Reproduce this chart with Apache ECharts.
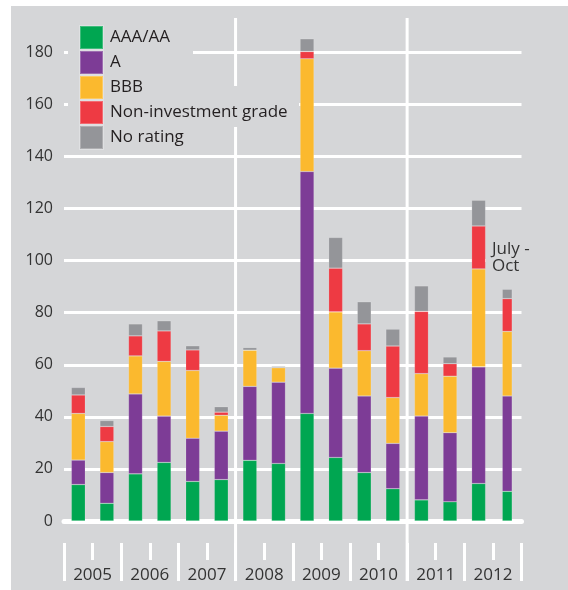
<!DOCTYPE html>
<html>
<head>
<meta charset="utf-8">
<script src="https://cdn.jsdelivr.net/npm/echarts@6/dist/echarts.min.js"></script>
<style>
  html, body { margin: 0; padding: 0; background: #ffffff; }
  #main { position: absolute; left: 11px; top: 6px; width: 557px; height: 584px; background: #d5d6d8; }
</style>
</head>
<body>
<div id="main"></div>
<script>
// two bars per year, the last one is July - Oct 2012
var years = ["2005", "2006", "2007", "2008", "2009", "2010", "2011", "2012"];
var periods = ["2005-1", "2005-2", "2006-1", "2006-2", "2007-1", "2007-2", "2008-1", "2008-2",
  "2009-1", "2009-2", "2010-1", "2010-2", "2011-1", "2011-2", "2012-1", "2012-2"];

var aaaAA = [14, 6.8, 18.1, 22.5, 15.2, 15.9, 23.3, 22.1, 41.3, 24.4, 18.6, 12.4, 8.1, 7.4, 14.4, 11.4];
var ratingA = [9.4, 11.8, 30.7, 17.8, 16.6, 18.6, 28.4, 31.2, 92.9, 34.3, 29.4, 17.4, 32.2, 26.5, 44.8, 36.6];
var bbb = [17.9, 11.9, 14.6, 21.0, 26.0, 6.1, 13.9, 5.6, 43.3, 21.6, 17.4, 17.6, 16.3, 21.7, 37.6, 24.8];
var nonInvestment = [7.1, 5.8, 7.7, 11.7, 7.9, 1.2, 0, 0, 2.8, 16.8, 10.3, 19.8, 23.9, 4.8, 16.5, 12.6];
var noRating = [2.9, 2.3, 4.6, 3.9, 1.6, 2.1, 1.0, 0.5, 4.9, 11.8, 8.5, 6.5, 9.8, 2.6, 9.9, 3.6];

var yTicks = { min: 0, max: 180, interval: 20 };

var groups = [
  { name: "AAA/AA", data: aaaAA, color: "#00a651" },
  { name: "A", data: ratingA, color: "#7d3c96" },
  { name: "BBB", data: bbb, color: "#fbb92e" },
  { name: "Non-investment grade", data: nonInvestment, color: "#ee3a43" },
  { name: "No rating", data: noRating, color: "#949599" },
];

var last = periods.length - 1;
var series = [];
groups.forEach(function (g) {
  // full-year bars
  series.push({
    name: g.name,
    type: "bar",
    stack: "main",
    xAxisIndex: 0,
    barWidth: 14,
    clip: false,
    itemStyle: { color: g.color, borderColor: "rgba(255,255,255,0.25)", borderWidth: 0.6 },
    data: g.data.map(function (v, i) { return i === last ? "-" : v; }),
  });
  // narrower July - Oct bar
  series.push({
    name: g.name,
    type: "bar",
    stack: "part",
    xAxisIndex: 1,
    barWidth: 10,
    clip: false,
    itemStyle: { color: g.color, borderColor: "rgba(255,255,255,0.25)", borderWidth: 0.6 },
    data: g.data.map(function (v, i) { return i === last ? v : "-"; }),
  });
});

var main = echarts.init(document.getElementById("main"));

var option = {
  animation: false,
  textStyle: { fontFamily: "Open Sans" },
  grid: { left: 53, right: 46.5, top: 46.3, bottom: 69 },
  legend: {
    data: groups.map(function (g) { return g.name; }),
    orient: "vertical",
    left: 68,
    top: 19,
    padding: 0,
    itemGap: 0,
    itemWidth: 23,
    itemHeight: 23,
    icon: "rect",
    textStyle: { fontSize: 17, color: "#231f20", padding: [0, 0, 0, 2] },
  },
  xAxis: [
    {
      type: "category",
      data: periods,
      axisLine: { show: true, lineStyle: { color: "#ffffff", width: 5 } },
      axisTick: { show: false },
      axisLabel: { show: false },
    },
    {
      type: "category",
      data: periods,
      show: false,
    },
    {
      type: "category",
      data: years,
      position: "bottom",
      offset: 22,
      axisLine: { show: false },
      axisTick: { show: true, length: 38, lineStyle: { color: "#ffffff", width: 3 } },
      axisLabel: { fontSize: 17, color: "#333333", margin: 24 },
    },
    {
      type: "category",
      data: years,
      position: "bottom",
      offset: 22,
      axisLine: { show: false },
      axisTick: { show: true, alignWithLabel: true, length: 17, lineStyle: { color: "#ffffff", width: 3 } },
      axisLabel: { show: false },
    },
  ],
  yAxis: {
    type: "value",
    min: yTicks.min,
    max: yTicks.max,
    interval: yTicks.interval,
    axisLine: { show: false },
    axisTick: { show: false },
    axisLabel: { fontSize: 16, color: "#333333", margin: 11 },
    splitLine: { lineStyle: { color: "#ffffff", width: 3 } },
  },
  series: series,
};

main.setOption(option);

// white dividers between 2007/2008 and 2010/2011, from the top down to the year ticks
var x0 = main.convertToPixel({ xAxisIndex: 0 }, periods[5]);
var x1 = main.convertToPixel({ xAxisIndex: 0 }, periods[6]);
var x2 = main.convertToPixel({ xAxisIndex: 0 }, periods[11]);
var x3 = main.convertToPixel({ xAxisIndex: 0 }, periods[12]);
var d1 = (x0 + x1) / 2;
var d2 = (x2 + x3) / 2;
var bg = "#d5d6d8";

main.setOption({
  graphic: [
    { type: "line", z: 1, shape: { x1: d1, y1: 12, x2: d1, y2: 575 }, style: { stroke: "#ffffff", lineWidth: 3 } },
    { type: "line", z: 1, shape: { x1: d2, y1: 12, x2: d2, y2: 575 }, style: { stroke: "#ffffff", lineWidth: 3 } },
    // legend backing
    { type: "rect", z: 3, shape: { x: 57, y: 16, width: 125, height: 126 }, style: { fill: bg } },
    { type: "rect", z: 3, shape: { x: 179, y: 80, width: 109, height: 41 }, style: { fill: bg } },
    // July - Oct note
    { type: "rect", z: 3, shape: { x: 475, y: 233, width: 60, height: 40 }, style: { fill: bg } },
    {
      type: "text", z: 4, x: 481, y: 235,
      style: { text: "July -\nOct", fill: "#333333", fontSize: 17, lineHeight: 17, fontFamily: "Open Sans" },
    },
  ],
});
</script>
</body>
</html>
